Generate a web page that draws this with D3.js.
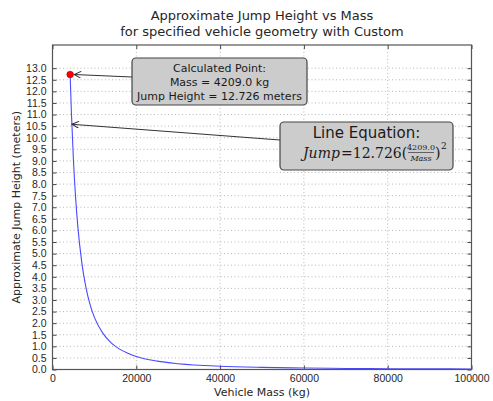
<!DOCTYPE html>
<html>
<head>
<meta charset="utf-8">
<script src="https://cdn.jsdelivr.net/npm/d3@7"></script>
<style>
    body { margin: 0; background: #ffffff; }
    svg { font-family: "DejaVu Sans", sans-serif; }
    .tick text { fill: #262626; font-size: 10.5px; }
    .tick line { stroke: #444; }
    .domain { display: none; }
</style>
</head>
<body>
<div id="chart"></div>
<script>
    "use strict";

    // curve samples (mass in kg, jump height in meters)
    const massValues = [4209, 4500, 5000, 5500, 6000, 7000, 8000, 9000, 10000, 12000, 14000, 16000,
        18000, 20000, 25000, 30000, 40000, 50000, 60000, 70000, 80000, 90000, 100000];
    const jumpValues = [12.726, 11.13, 9.02, 7.45, 6.26, 4.60, 3.52, 2.78, 2.25, 1.57, 1.15, 0.88,
        0.70, 0.56, 0.36, 0.25, 0.14, 0.09, 0.063, 0.046, 0.035, 0.028, 0.023];

    // the calculated point and where the equation arrow lands on the curve
    const calcPoint = { mass: 4209.0, jump: 12.726 };
    const equationTarget = { mass: 4620, jump: 10.58 };

    // axis ticks
    const xTicks = [0, 20000, 40000, 60000, 80000, 100000];
    const yTicks = d3.range(0, 27).map((i) => i * 0.5);

    const titleLines = ["Approximate Jump Height vs Mass", "for specified vehicle geometry with Custom"];
    const calcLines = ["Calculated Point:", "Mass = 4209.0 kg", "Jump Height = 12.726 meters"];

    const width = 493;
    const height = 401;
    const margin = { top: 45, right: 21.5, bottom: 31.5, left: 52.5 };
    const plotW = width - margin.left - margin.right;
    const plotH = height - margin.top - margin.bottom;

    const svg = d3.select("#chart").append("svg").attr("width", width).attr("height", height);

    const x = d3.scaleLinear().domain([0, 100000]).range([margin.left, margin.left + plotW]);
    const y = d3.scaleLinear().domain([0, 14]).range([margin.top + plotH, margin.top]);

    // title
    svg.append("g")
        .selectAll("text")
        .data(titleLines)
        .join("text")
        .attr("x", margin.left + plotW / 2)
        .attr("y", (d, i) => 20 + i * 16)
        .attr("text-anchor", "middle")
        .attr("font-size", "13px")
        .attr("fill", "#262626")
        .text((d) => d);

    // dotted grid
    const grid = svg.append("g").attr("stroke", "#888").attr("stroke-width", 0.6).attr("stroke-dasharray", "1,2.5");
    grid.selectAll(".gx")
        .data(xTicks.slice(1, -1))
        .join("line")
        .attr("x1", (d) => x(d))
        .attr("x2", (d) => x(d))
        .attr("y1", margin.top)
        .attr("y2", margin.top + plotH);
    grid.selectAll(".gy")
        .data(yTicks.slice(1))
        .join("line")
        .attr("x1", margin.left)
        .attr("x2", margin.left + plotW)
        .attr("y1", (d) => y(d))
        .attr("y2", (d) => y(d));

    // axes with ticks pointing inward
    svg.append("g")
        .attr("transform", `translate(0,${margin.top + plotH})`)
        .call(d3.axisBottom(x).tickValues(xTicks).tickSize(-4).tickPadding(5.5).tickFormat(d3.format("d")));
    svg.append("g")
        .attr("transform", `translate(${margin.left},0)`)
        .call(d3.axisLeft(y).tickValues(yTicks).tickSize(-4).tickPadding(6).tickFormat(d3.format(".1f")));
    svg.append("g")
        .attr("transform", `translate(0,${margin.top})`)
        .call(d3.axisTop(x).tickValues(xTicks).tickSize(-4).tickFormat(""));
    svg.append("g")
        .attr("transform", `translate(${margin.left + plotW},0)`)
        .call(d3.axisRight(y).tickValues(yTicks).tickSize(-4).tickFormat(""));

    // axis labels
    svg.append("text")
        .attr("x", margin.left + plotW / 2)
        .attr("y", 395.5)
        .attr("text-anchor", "middle")
        .attr("font-size", "11px")
        .attr("fill", "#262626")
        .text("Vehicle Mass (kg)");
    svg.append("text")
        .attr("transform", `translate(19.5,${margin.top + plotH / 2}) rotate(-90)`)
        .attr("text-anchor", "middle")
        .attr("font-size", "11px")
        .attr("fill", "#262626")
        .text("Approximate Jump Height (meters)");

    // curve
    const line = d3
        .line()
        .x((d) => x(d[0]))
        .y((d) => y(d[1]))
        .curve(d3.curveMonotoneX);
    svg.append("path")
        .datum(d3.zip(massValues, jumpValues))
        .attr("d", line)
        .attr("fill", "none")
        .attr("stroke", "#4a4aff")
        .attr("stroke-width", 1.1);

    // frame
    svg.append("rect")
        .attr("x", margin.left)
        .attr("y", margin.top)
        .attr("width", plotW)
        .attr("height", plotH)
        .attr("fill", "none")
        .attr("stroke", "#555")
        .attr("stroke-width", 1.2);

    // red point
    svg.append("circle")
        .attr("cx", x(calcPoint.mass))
        .attr("cy", y(calcPoint.jump))
        .attr("r", 3.3)
        .attr("fill", "#ff0000")
        .attr("stroke", "#8a0000")
        .attr("stroke-width", 0.6);

    // arrow marker
    svg.append("defs")
        .append("marker")
        .attr("id", "arrow")
        .attr("viewBox", "0 0 10 10")
        .attr("refX", 10)
        .attr("refY", 5)
        .attr("markerWidth", 9)
        .attr("markerHeight", 7)
        .attr("markerUnits", "userSpaceOnUse")
        .attr("orient", "auto")
        .append("path")
        .attr("d", "M0,0 L10,5 L0,10")
        .attr("fill", "none")
        .attr("stroke", "#333")
        .attr("stroke-width", 1.4);

    /**
     * Function that draws an annotation box with an arrow
     */
    let drawCallout = (box, from, target) => {
        svg.append("line")
            .attr("x1", from[0])
            .attr("y1", from[1])
            .attr("x2", target[0])
            .attr("y2", target[1])
            .attr("stroke", "#333")
            .attr("stroke-width", 1)
            .attr("marker-end", "url(#arrow)");
        svg.append("rect")
            .attr("x", box.x)
            .attr("y", box.y)
            .attr("width", box.w)
            .attr("height", box.h)
            .attr("rx", 4)
            .attr("ry", 4)
            .attr("fill", "#cccccc")
            .attr("stroke", "#444")
            .attr("stroke-width", 1.2);
    };

    // calculated point callout
    const box1 = { x: 132, y: 58, w: 175, h: 47 };
    drawCallout(box1, [box1.x, 77], [x(calcPoint.mass) + 4, y(calcPoint.jump)]);
    svg.append("g")
        .selectAll("text")
        .data(calcLines)
        .join("text")
        .attr("x", box1.x + box1.w / 2)
        .attr("y", (d, i) => 72 + i * 14)
        .attr("text-anchor", "middle")
        .attr("font-size", "11px")
        .attr("fill", "#1a1a1a")
        .text((d) => d);

    // line equation callout
    const box2 = { x: 280, y: 122, w: 173, h: 48 };
    drawCallout(box2, [box2.x, 140], [x(equationTarget.mass), y(equationTarget.jump)]);
    svg.append("text")
        .attr("x", box2.x + box2.w / 2)
        .attr("y", 138)
        .attr("text-anchor", "middle")
        .attr("font-size", "15px")
        .attr("fill", "#1a1a1a")
        .text("Line Equation:");

    const eq = svg.append("g").attr("font-family", "'DejaVu Serif', 'Liberation Serif', serif").attr("fill", "#1a1a1a");
    eq.append("text")
        .attr("x", 303)
        .attr("y", 158)
        .attr("font-size", "14px")
        .attr("font-style", "italic")
        .text("Jump");
    eq.append("text").attr("x", 341).attr("y", 158).attr("font-size", "14px").text("=12.726(");
    eq.append("text").attr("x", 421).attr("y", 149.5).attr("font-size", "8px").attr("text-anchor", "middle").text("4209.0");
    eq.append("line").attr("x1", 408).attr("x2", 434).attr("y1", 152.5).attr("y2", 152.5).attr("stroke", "#1a1a1a").attr("stroke-width", 0.6);
    eq.append("text")
        .attr("x", 421)
        .attr("y", 161)
        .attr("font-size", "8px")
        .attr("font-style", "italic")
        .attr("text-anchor", "middle")
        .text("Mass");
    eq.append("text").attr("x", 435).attr("y", 158).attr("font-size", "14px").text(")");
    eq.append("text").attr("x", 441).attr("y", 149).attr("font-size", "9px").text("2");
</script>
</body>
</html>
